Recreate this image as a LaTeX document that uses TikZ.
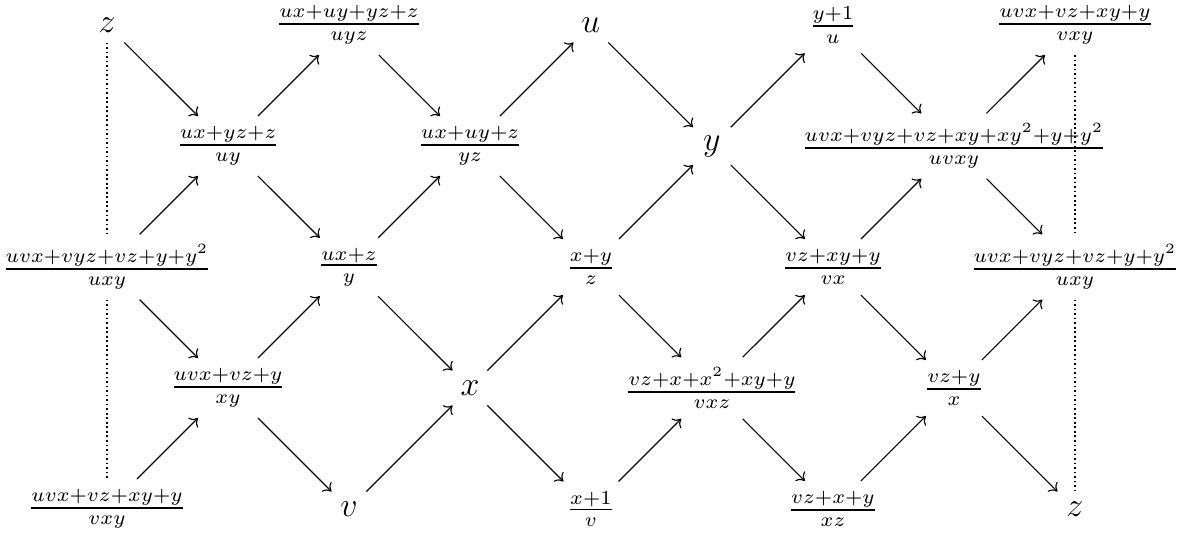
\documentclass[tikz,border=0pt]{standalone}
\usepackage{amsmath}
\usetikzlibrary{arrows.meta}
\newcommand{\fr}[2]{\genfrac{}{}{0.65pt}{1}{#1}{#2}}
\begin{document}
\begin{tikzpicture}[x=1.503cm,y=1.503cm,
  every node/.style={inner sep=3.4pt},
  var/.style={font=\large},
  mut/.style={-{To[length=0.9mm,width=1.7mm]}},
  frozen/.style={densely dotted,line width=0.6pt}]
\useasboundingbox (-1.329cm,0.311cm) rectangle (13.404cm,-6.347cm);
% top row
\node[var] (z1) at (0,0) {$z$};
\node (f1) at (2,0) {$\fr{ux+uy+yz+z}{uyz}$};
\node[var] (u)  at (4,0) {$u$};
\node (f2) at (6,0) {$\fr{y+1}{u}$};
\node (f3) at (8,0) {$\fr{uvx+vz+xy+y}{vxy}$};
% second row
\node (f4) at (1,-1) {$\fr{ux+yz+z}{uy}$};
\node (f5) at (3,-1) {$\fr{ux+uy+z}{yz}$};
\node[var] (y)  at (5,-1) {$y$};
\node (f6) at (7,-1) {$\fr{uvx+vyz+vz+xy+xy^2+y+y^2}{uvxy}$};
% middle row
\node (f7)  at (0,-2) {$\fr{uvx+vyz+vz+y+y^2}{uxy}$};
\node (f8)  at (2,-2) {$\fr{ux+z}{y}$};
\node (f9)  at (4,-2) {$\fr{x+y}{z}$};
\node (f10) at (6,-2) {$\fr{vz+xy+y}{vx}$};
\node (f11) at (8,-2) {$\fr{uvx+vyz+vz+y+y^2}{uxy}$};
% fourth row
\node (f12) at (1,-3) {$\fr{uvx+vz+y}{xy}$};
\node[var] (x)   at (3,-3) {$x$};
\node (f13) at (5,-3) {$\fr{vz+x+x^2+xy+y}{vxz}$};
\node (f14) at (7,-3) {$\fr{vz+y}{x}$};
% bottom row
\node (f15) at (0,-4) {$\fr{uvx+vz+xy+y}{vxy}$};
\node[var] (v)   at (2,-4) {$v$};
\node (f16) at (4,-4) {$\fr{x+1}{v}$};
\node (f17) at (6,-4) {$\fr{vz+x+y}{xz}$};
\node[var] (z2)  at (8,-4) {$z$};
% frozen sides
\draw[frozen] (z1) -- (f7);
\draw[frozen] (f7) -- (f15);
\draw[frozen] (f3) -- (f11);
\draw[frozen] (f11) -- (z2);
% upper band
\draw[mut] (z1) -- (f4);
\draw[mut] (f4) -- (f1);
\draw[mut] (f1) -- (f5);
\draw[mut] (f5) -- (u);
\draw[mut] (u) -- (y);
\draw[mut] (y) -- (f2);
\draw[mut] (f2) -- (f6);
\draw[mut] (f6) -- (f3);
% second band
\draw[mut] (f7) -- (f4);
\draw[mut] (f4) -- (f8);
\draw[mut] (f8) -- (f5);
\draw[mut] (f5) -- (f9);
\draw[mut] (f9) -- (y);
\draw[mut] (y) -- (f10);
\draw[mut] (f10) -- (f6);
\draw[mut] (f6) -- (f11);
% third band
\draw[mut] (f7) -- (f12);
\draw[mut] (f12) -- (f8);
\draw[mut] (f8) -- (x);
\draw[mut] (x) -- (f9);
\draw[mut] (f9) -- (f13);
\draw[mut] (f13) -- (f10);
\draw[mut] (f10) -- (f14);
\draw[mut] (f14) -- (f11);
% lower band
\draw[mut] (f15) -- (f12);
\draw[mut] (f12) -- (v);
\draw[mut] (v) -- (x);
\draw[mut] (x) -- (f16);
\draw[mut] (f16) -- (f13);
\draw[mut] (f13) -- (f17);
\draw[mut] (f17) -- (f14);
\draw[mut] (f14) -- (z2);
\end{tikzpicture}
\end{document}
